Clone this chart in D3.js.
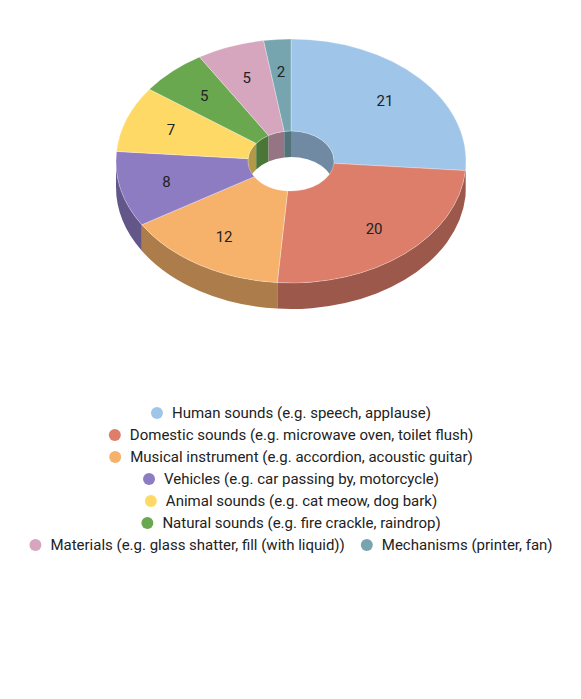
<!DOCTYPE html>
<html>
<head>
<meta charset="utf-8">
<script src="https://cdn.jsdelivr.net/npm/d3@7"></script>
<style>
  html, body { margin: 0; padding: 0; background: #fff; }
  svg { display: block; font-family: Roboto, sans-serif; }
</style>
</head>
<body>
<div id="chart"></div>
<script>
const width = 581;
const height = 699;

const categories = [
  'Human sounds (e.g. speech, applause)',
  'Domestic sounds (e.g. microwave oven, toilet flush)',
  'Musical instrument (e.g. accordion, acoustic guitar)',
  'Vehicles (e.g. car passing by, motorcycle)',
  'Animal sounds (e.g. cat meow, dog bark)',
  'Natural sounds (e.g. fire crackle, raindrop)',
  'Materials (e.g. glass shatter, fill (with liquid))',
  'Mechanisms (printer, fan)'
];
const values = [21, 20, 12, 8, 7, 5, 5, 2];
const colors = ['#9fc5e8', '#dd7e6b', '#f6b26b', '#8e7cc3', '#ffd966', '#6aa84f', '#d5a6bd', '#76a5af'];

// geometry of the tilted donut
const cx = 291, cy = 161;
const outerR = 175, innerR = 43;
const tilt = 0.697;          // vertical squash of the ellipse
const depth = 26;            // thickness in px
const D = depth / tilt;      // thickness inside the squashed group
const labelR = 128;

const svg = d3.select('#chart')
  .append('svg')
  .attr('width', width)
  .attr('height', height);

const pie = d3.pie().sort(null).value(d => d.value);
const slices = pie(values.map((v, i) => ({value: v, color: colors[i], name: categories[i]})));

const shade = c => d3.rgb(c).darker(1).toString();

// clip an angle range to [lo, hi]
function clip(a0, a1, lo, hi) {
  const s = Math.max(a0, lo), e = Math.min(a1, hi);
  return s < e ? [s, e] : null;
}

// band between an arc on the top face and the same arc shifted down
function band(rad, a0, a1) {
  const p = d3.path();
  const h = Math.PI / 2;
  p.arc(0, 0, rad, a0 - h, a1 - h);
  p.arc(0, D, rad, a1 - h, a0 - h, true);
  p.closePath();
  return p.toString();
}

const g = svg.append('g')
  .attr('transform', 'translate(' + cx + ',' + cy + ') scale(1,' + tilt + ')');

// outer walls, front half only
slices.forEach(s => {
  const c = clip(s.startAngle, s.endAngle, Math.PI / 2, Math.PI * 1.5);
  if (!c) return;
  g.append('path')
    .attr('d', band(outerR, c[0], c[1]))
    .attr('fill', shade(s.data.color));
});

// inner walls seen through the hole, back half only
slices.forEach(s => {
  [[0, Math.PI / 2], [Math.PI * 1.5, Math.PI * 2]].forEach(r => {
    const c = clip(s.startAngle, s.endAngle, r[0], r[1]);
    if (!c) return;
    g.append('path')
      .attr('d', band(innerR, c[0], c[1]))
      .attr('fill', shade(s.data.color));
  });
});

// top faces
const arc = d3.arc().innerRadius(innerR).outerRadius(outerR);
g.selectAll('path.top')
  .data(slices)
  .enter()
  .append('path')
  .attr('class', 'top')
  .attr('d', arc)
  .attr('fill', d => d.data.color)
  .attr('stroke', '#fff')
  .attr('stroke-opacity', 0.5)
  .attr('stroke-width', 0.6)
  .attr('vector-effect', 'non-scaling-stroke');

// value labels
svg.selectAll('text.val')
  .data(slices)
  .enter()
  .append('text')
  .attr('class', 'val')
  .attr('x', d => cx + labelR * Math.sin((d.startAngle + d.endAngle) / 2))
  .attr('y', d => cy - tilt * labelR * Math.cos((d.startAngle + d.endAngle) / 2))
  .attr('dy', '0.35em')
  .attr('text-anchor', 'middle')
  .style('font-size', '15px')
  .style('fill', '#222')
  .text(d => d.value);

// legend, flowed into centred rows
const legend = svg.append('g').attr('class', 'legend');
const maxRow = 560, gap = 16, textOff = 21, rowH = 22, legendTop = 413;

const items = categories.map((name, i) => {
  const it = legend.append('g');
  it.append('circle')
    .attr('cx', 6).attr('cy', 0).attr('r', 6)
    .attr('fill', colors[i]);
  const t = it.append('text')
    .attr('x', textOff)
    .attr('dy', '0.35em')
    .style('font-size', '15px')
    .style('fill', '#222')
    .text(name);
  return {g: it, w: textOff + t.node().getComputedTextLength()};
});

const rows = [];
let cur = [], curW = 0;
items.forEach(it => {
  const add = cur.length ? gap + it.w : it.w;
  if (cur.length && curW + add > maxRow) {
    rows.push({items: cur, w: curW});
    cur = []; curW = 0;
  }
  curW += cur.length ? gap + it.w : it.w;
  cur.push(it);
});
if (cur.length) rows.push({items: cur, w: curW});

rows.forEach((row, ri) => {
  let x = cx - row.w / 2;
  row.items.forEach(it => {
    it.g.attr('transform', 'translate(' + x + ',' + (legendTop + ri * rowH) + ')');
    x += it.w + gap;
  });
});
</script>
</body>
</html>
